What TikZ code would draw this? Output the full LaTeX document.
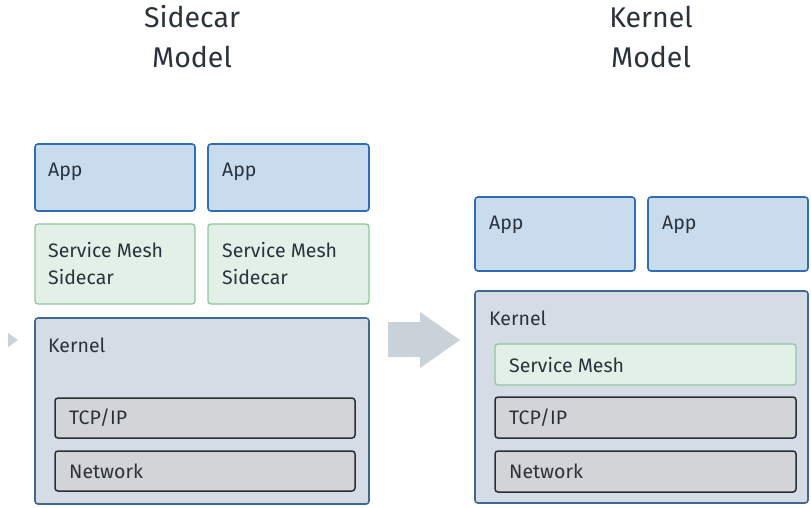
\documentclass[tikz,border=0pt]{standalone}
\usepackage{fontspec}
\setmainfont{Fira Sans}
\definecolor{appfill}{HTML}{C9DCEE}
\definecolor{appline}{HTML}{2E6DB4}
\definecolor{carfill}{HTML}{E3F0E7}
\definecolor{carline}{HTML}{8DC8A0}
\definecolor{kerfill}{HTML}{D5DCE6}
\definecolor{kerline}{HTML}{3D6994}
\definecolor{netfill}{HTML}{D3D4D8}
\definecolor{netline}{HTML}{2A2F36}
\definecolor{txt}{HTML}{2A323C}
\definecolor{arrowgray}{HTML}{C9D1D9}
\begin{document}
\begin{tikzpicture}[x=1pt,y=-1pt,
  box/.style={rounded corners=3pt,line width=1.6pt},
  appbox/.style={box,draw=appline,fill=appfill},
  carbox/.style={box,line width=1.3pt,draw=carline,fill=carfill},
  kerbox/.style={box,draw=kerline,fill=kerfill},
  netbox/.style={box,line width=1.5pt,draw=netline,fill=netfill},
  lbl/.style={anchor=west,text=txt,font=\fontsize{19.5}{27}\selectfont,align=left,inner sep=0pt},
  ttl/.style={text=txt,font=\fontsize{28.5}{40}\selectfont,align=center,inner sep=0pt}]
\useasboundingbox (0,0) rectangle (811,507);
% titles
\node[ttl] (t1) at (192,37) {Sidecar\\Model};
\node[ttl] (t2) at (651,37) {Kernel\\Model};
% sidecar model
\draw[appbox] (35,144) rectangle (195,211);
\draw[appbox] (208,144) rectangle (369,211);
\node[lbl] (a1) at (48,172) {App};
\node[lbl] (a2) at (222,172) {App};
\draw[carbox] (35,224) rectangle (195,304);
\draw[carbox] (208,224) rectangle (369,304);
\node[lbl] (s1) at (48,264) {Service Mesh\\Sidecar};
\node[lbl] (s2) at (222,264) {Service Mesh\\Sidecar};
\draw[kerbox] (35,318) rectangle (369,504);
\node[lbl] (k1) at (48,345) {Kernel};
\draw[netbox] (55,398) rectangle (355,438);
\node[lbl] (tcp1) at (69,418) {TCP/IP};
\draw[netbox] (55,451) rectangle (355,491);
\node[lbl] (net1) at (69,471) {Network};
% small marker at the left edge
\fill[arrowgray] (8,333) -- (18,340) -- (8,347) -- cycle;
% transition arrow
\fill[arrowgray] (388,322) -- (420,322) -- (420,312) -- (460,340) -- (420,368) -- (420,357) -- (388,357) -- cycle;
% kernel model
\draw[appbox] (475,197) rectangle (635,271);
\draw[appbox] (648,197) rectangle (808,271);
\node[lbl] (a3) at (489,225) {App};
\node[lbl] (a4) at (662,225) {App};
\draw[kerbox] (475,291) rectangle (808,503);
\node[lbl] (k2) at (489,318) {Kernel};
\draw[carbox] (495,344) rectangle (796,385);
\node[lbl] (sm) at (509,365) {Service Mesh};
\draw[netbox] (495,397) rectangle (796,438);
\node[lbl] (tcp2) at (509,418) {TCP/IP};
\draw[netbox] (495,451) rectangle (796,492);
\node[lbl] (net2) at (509,471) {Network};
\end{tikzpicture}
\end{document}
